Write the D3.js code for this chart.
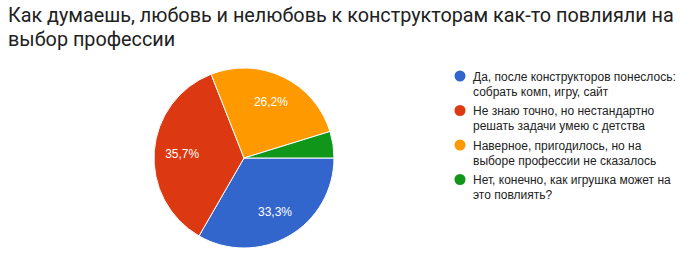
<!DOCTYPE html>
<html>
<head>
<meta charset="utf-8">
<script src="https://cdn.jsdelivr.net/npm/d3@7"></script>
<style>
  body { margin: 0; background: #fff; }
  svg { display: block; font-family: Roboto, Arial, sans-serif; }
</style>
</head>
<body>
<svg id="chart" width="686" height="263"></svg>
<script>
// survey answers (42 responses)
var titleLines = ["Как думаешь, любовь и нелюбовь к конструкторам как-то повлияли на", "выбор профессии"];
var categories = [
    ["Да, после конструкторов понеслось:", "собрать комп, игру, сайт"],
    ["Не знаю точно, но нестандартно", "решать задачи умею с детства"],
    ["Наверное, пригодилось, но на", "выборе профессии не сказалось"],
    ["Нет, конечно, как игрушка может на", "это повлиять?"]
];
var counts = [14, 15, 11, 2];
var colors = ["#3366cc", "#dc3912", "#ff9900", "#109618"];

var svg = d3.select("#chart");
var cx = 244, cy = 158, radius = 90;

// title
var title = svg.append("text")
    .attr("x", 8)
    .attr("y", 22)
    .attr("fill", "#212121")
    .style("font-size", "19.8px");
title.selectAll("tspan")
    .data(titleLines)
    .enter().append("tspan")
    .attr("x", 8)
    .attr("dy", (d, i) => i ? 24 : 0)
    .text(d => d);

// pie, google style: starts at 3 o'clock, clockwise
var total = d3.sum(counts);
var pie = d3.pie()
    .sort(null)
    .startAngle(Math.PI / 2)
    .endAngle(Math.PI / 2 + 2 * Math.PI)
    .value(d => d)(counts);

var arc = d3.arc().innerRadius(0).outerRadius(radius);
var labelArc = d3.arc().innerRadius(62).outerRadius(62);

var g = svg.append("g").attr("transform", "translate(" + cx + "," + cy + ")");

g.selectAll("path")
    .data(pie)
    .enter().append("path")
    .attr("d", arc)
    .attr("fill", (d, i) => colors[i])
    .attr("stroke", "#fff")
    .attr("stroke-width", 1);

var fmt = v => (v * 100).toFixed(1).replace(".", ",") + "%";

g.selectAll("text")
    .data(pie.filter(d => d.value / total > 0.06))
    .enter().append("text")
    .attr("transform", d => "translate(" + labelArc.centroid(d) + ")")
    .attr("text-anchor", "middle")
    .attr("dy", "0.35em")
    .attr("fill", "#fff")
    .style("font-family", "Arial, 'Liberation Sans', sans-serif")
    .style("font-size", "12px")
    .text(d => fmt(d.value / total));

// legend
var legend = svg.append("g").attr("transform", "translate(460,76)");
var item = legend.selectAll("g")
    .data(categories)
    .enter().append("g")
    .attr("transform", (d, i) => "translate(0," + i * 34.5 + ")");

item.append("circle")
    .attr("r", 5.5)
    .attr("fill", (d, i) => colors[i]);

var lt = item.append("text")
    .attr("x", 13)
    .attr("y", 4.5)
    .attr("fill", "#222")
    .style("font-family", "Arial, 'Liberation Sans', sans-serif")
    .style("font-size", "12px");
lt.selectAll("tspan")
    .data(d => d)
    .enter().append("tspan")
    .attr("x", 13)
    .attr("dy", (d, i) => i ? 15 : 0)
    .text(d => d);
</script>
</body>
</html>
